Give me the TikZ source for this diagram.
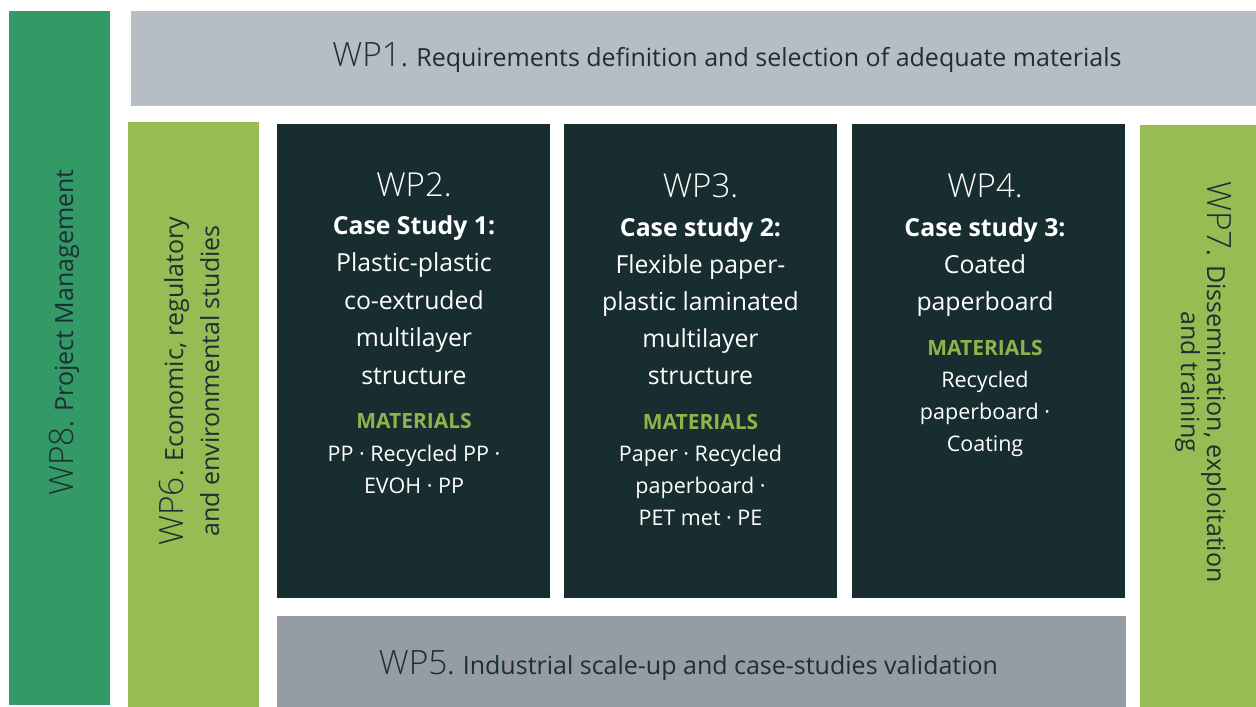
\documentclass[tikz,border=0pt]{standalone}
\usepackage{fontspec}
\setmainfont{Open Sans}
\newfontfamily\lightfont{Open Sans Light}
\newcommand{\wpfont}{\lightfont\fontsize{33.5}{38}\selectfont}

\definecolor{pmgreen}{HTML}{339966}
\definecolor{reqgrey}{HTML}{B7BDC4}
\definecolor{valgrey}{HTML}{959CA4}
\definecolor{sidelime}{HTML}{97BC53}
\definecolor{casedark}{HTML}{182D30}
\definecolor{inkdark}{HTML}{1B3033}
\definecolor{matgreen}{HTML}{8DB64A}

\begin{document}
\begin{tikzpicture}[x=1pt, y=-1pt,
		wpbox/.style={rectangle, inner sep=0pt, outer sep=0pt},
		wpnum/.style={anchor=base, text=white, font=\lightfont\fontsize{33}{38}\selectfont},
		casetext/.style={anchor=base, align=center, text=white, font=\fontsize{24.8}{37.5}\selectfont},
		mathead/.style={anchor=base, text=matgreen, font=\bfseries\fontsize{21}{24}\selectfont},
		matlist/.style={anchor=base, align=center, text=white, font=\fontsize{21.5}{32}\selectfont},
		sidetext/.style={anchor=base, align=center, text=inkdark, inner sep=0pt}
		]
	\useasboundingbox (0,0) rectangle (1256,707);
	% frames
	\node [wpbox, fill=pmgreen, minimum width=101pt, minimum height=694pt] (wp8) at (59.5,358) {};
	\node [wpbox, fill=reqgrey, minimum width=1125pt, minimum height=95pt] (wp1) at (693.5,58.5) {};
	\node [wpbox, fill=sidelime, minimum width=131pt, minimum height=585pt] (wp6) at (193.5,414.5) {};
	\node [wpbox, fill=casedark, minimum width=273pt, minimum height=474pt] (wp2) at (413.5,361) {};
	\node [wpbox, fill=casedark, minimum width=273pt, minimum height=474pt] (wp3) at (700.5,361) {};
	\node [wpbox, fill=casedark, minimum width=273pt, minimum height=474pt] (wp4) at (988.5,361) {};
	\node [wpbox, fill=valgrey, minimum width=849pt, minimum height=91pt] (wp5) at (701.5,661.5) {};
	\node [wpbox, fill=sidelime, minimum width=116pt, minimum height=582pt] (wp7) at (1198,416) {};

	% horizontal bars
	\node [sidetext, font=\fontsize{25}{28}\selectfont] (wp1-label) at (727,66.7)
		{{\wpfont WP1}. Requirements definition and selection of adequate materials};
	\node [sidetext, font=\fontsize{25}{28}\selectfont] (wp5-label) at (688.5,674)
		{{\wpfont WP5}. Industrial scale-up and case-studies validation};

	% vertical bars (anchor base = last line)
	\node [sidetext, rotate=90, font=\fontsize{25}{28}\selectfont] (wp8-label) at (73,332.5)
		{{\wpfont WP8}. Project Management};
	\node [sidetext, rotate=90, font=\fontsize{25}{36}\selectfont] (wp6-label) at (219,381)
		{{\wpfont WP6}. Economic, regulatory\\and environmental studies};
	\node [sidetext, rotate=-90, font=\fontsize{25}{24}\selectfont] (wp7-label) at (1181,382)
		{{\wpfont WP7}. Dissemination, exploitation\\and training};

	% case study 1
	\node [wpnum] (wp2-num) at (414,196) {WP2.};
	\node [casetext] (wp2-text) at (414,384)
		{\textbf{Case Study 1:}\\Plastic-plastic\\co-extruded\\multilayer\\structure};
	\node [mathead] (wp2-mat) at (414,428) {MATERIALS};
	\node [matlist] (wp2-list) at (414,493) {PP · Recycled PP ·\\EVOH · PP};

	% case study 2
	\node [wpnum] (wp3-num) at (700.5,197) {WP3.};
	\node [casetext, font=\fontsize{24.8}{37}\selectfont] (wp3-text) at (700.5,384)
		{\textbf{Case study 2:}\\Flexible paper-\\plastic laminated\\multilayer\\structure};
	\node [mathead] (wp3-mat) at (700.5,429) {MATERIALS};
	\node [matlist] (wp3-list) at (700.5,525) {Paper · Recycled\\paperboard ·\\PET met · PE};

	% case study 3
	\node [wpnum] (wp4-num) at (985,197) {WP4.};
	\node [casetext, font=\fontsize{24.8}{37}\selectfont] (wp4-text) at (985,310)
		{\textbf{Case study 3:}\\Coated\\paperboard};
	\node [mathead] (wp4-mat) at (985,355) {MATERIALS};
	\node [matlist] (wp4-list) at (985,451) {Recycled\\paperboard ·\\Coating};
\end{tikzpicture}
\end{document}
